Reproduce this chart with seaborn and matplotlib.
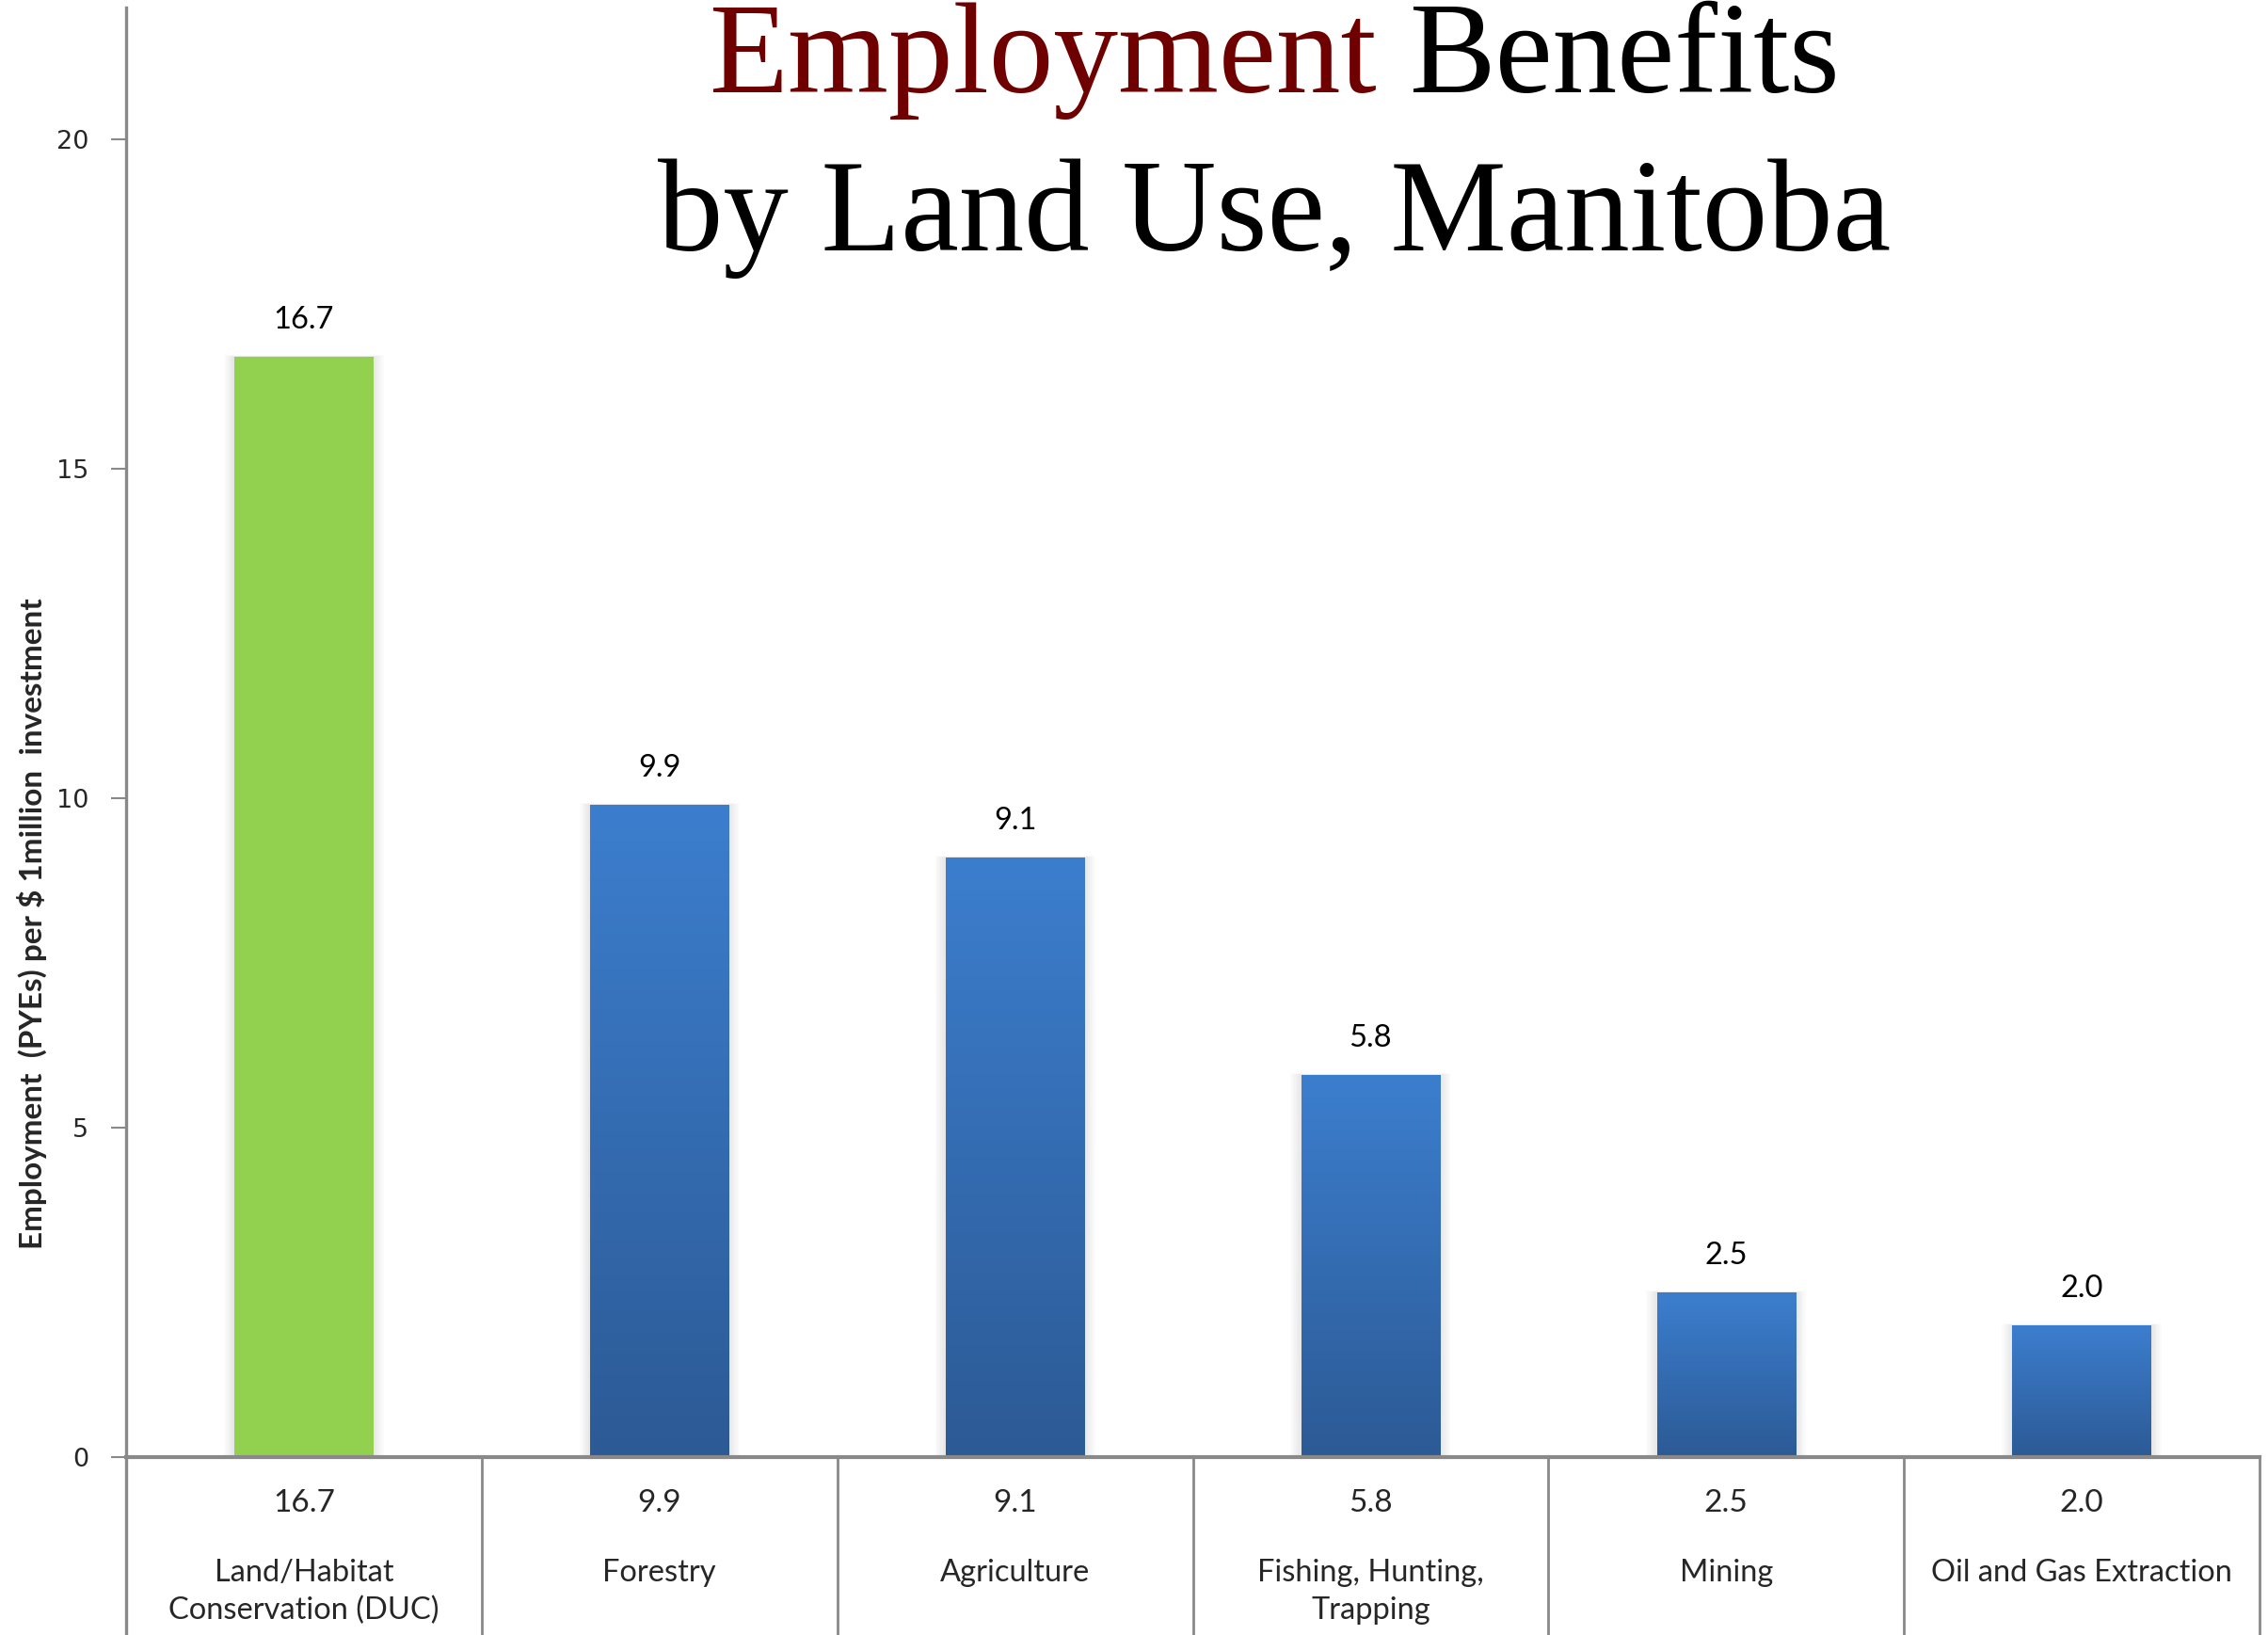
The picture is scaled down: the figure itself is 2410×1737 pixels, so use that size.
import numpy as np
import pandas as pd
import matplotlib
matplotlib.use("Agg")
import matplotlib.pyplot as plt
import matplotlib.transforms as mtrans
from matplotlib.lines import Line2D
from matplotlib.patches import Rectangle
import seaborn as sns

# ---- data ----
categories = ["Land/Habitat\nConservation (DUC)", "Forestry", "Agriculture",
              "Fishing, Hunting,\nTrapping", "Mining", "Oil and Gas Extraction"]
values = [16.7, 9.9, 9.1, 5.8, 2.5, 2.0]
value_labels = ["16.7", "9.9", "9.1", "5.8", "2.5", "2.0"]
yticks = [0, 5, 10, 15, 20]
title_red = "Employment"
title_black = "Benefits"
title_line2 = "by Land Use, Manitoba"
ylabel = "Employment  (PYEs) per $ 1million  investment"

W, H = 2410, 1737
sns.set_style("white")
plt.rcParams["font.family"] = ["Lato", "DejaVu Sans"]

GRAY = "#898989"
GREEN = "#92d050"
BLUE_TOP = np.array([0x3c, 0x7e, 0xce]) / 255
BLUE_BOT = np.array([0x2c, 0x5a, 0x95]) / 255

fig = plt.figure(figsize=(W / 100, H / 100), dpi=100)
ax = fig.add_axes([134 / W, 189 / H, (2401 - 134) / W, (1548 - 8) / H])
renderer = fig.canvas.get_renderer()

df = pd.DataFrame({"cat": categories, "val": values})
palette = {c: (GREEN if i == 0 else "#3470b8") for i, c in enumerate(categories)}
sns.barplot(data=df, x="cat", y="val", hue="cat", palette=palette, legend=False,
            width=0.39, ax=ax, saturation=1, zorder=3)

# gradient fills + soft side shadows
grad = np.linspace(0, 1, 256)[:, None]
for i, p in enumerate(ax.patches):
    x0, w, h = p.get_x(), p.get_width(), p.get_height()
    for k in range(1, 7):
        d = 0.005 * k
        ax.add_patch(Rectangle((x0 - d, 0), w + 2 * d, h + 0.004 * k, facecolor="black",
                               edgecolor="none", alpha=0.014, zorder=1))
    if i > 0:
        img = BLUE_BOT[None, None, :] * (1 - grad[:, :, None]) + BLUE_TOP[None, None, :] * grad[:, :, None]
        ax.imshow(img, extent=[x0, x0 + w, 0, h], origin="lower", aspect="auto",
                  zorder=4, interpolation="bilinear")
    p.set_edgecolor("none")

ax.set_xlim(-0.5, len(categories) - 0.5)
ax.set_ylim(0, 22)
ax.set_yticks(yticks)
ax.set_yticklabels([str(t) for t in yticks], family="DejaVu Sans", fontsize=19.5)
ax.set_xticks([])
ax.set_xlabel("")
ax.set_ylabel("")
ax.tick_params(axis="y", length=11.5, width=1.5, color=GRAY, direction="out", pad=17, left=True)
for s in ["top", "right"]:
    ax.spines[s].set_visible(False)
ax.spines["left"].set_color(GRAY)
ax.spines["left"].set_linewidth(2.4)
ax.spines["bottom"].set_color(GRAY)
ax.spines["bottom"].set_linewidth(3)
ax.spines["bottom"].set_zorder(6)

# value labels above bars
for i, (v, lab) in enumerate(zip(values, value_labels)):
    ax.annotate(lab, (i, v), xytext=(0, 30), textcoords="offset pixels",
                ha="center", va="baseline", fontsize=23.5, color="black")

# data table below
bt = mtrans.blended_transform_factory(ax.transData, fig.transFigure)
yb0 = 1 - 1548 / H
for xb in np.arange(-0.5, len(categories), 1.0):
    fig.add_artist(Line2D([xb, xb], [yb0, 0], transform=bt, color=GRAY,
                          lw=2.4 if xb == -0.5 else 2.0))
for i, (lab, vl) in enumerate(zip(categories, value_labels)):
    fig.text(i, 1 - 1597 / H, vl, transform=bt, ha="center", va="center", fontsize=24)
    fig.text(i, 1 - 1656 / H, lab, transform=bt, ha="center", va="top", fontsize=23.5,
             linespacing=1.4)

# y label, fitted to the reference length
probe = fig.text(0, 0, ylabel, fontsize=20, fontweight="bold", family=["Lato", "DejaVu Sans"])
lw_ = probe.get_window_extent(renderer).width
probe.remove()
ysize = 20 * 690 / lw_
fig.text(34 / W, 1 - 981 / H, ylabel, rotation=90, ha="center", va="center",
         fontsize=ysize, fontweight="bold", family=["Lato", "DejaVu Sans"])

# title
serif = ["Liberation Serif", "DejaVu Serif"]
probe = fig.text(0, 0, title_line2, fontsize=100, family=serif)
wpx = probe.get_window_extent(renderer).width
probe.remove()
tsize = 100 * 1310 / wpx
cx = 1354 / W
fig.text(cx, 1 - 266 / H, title_line2, fontsize=tsize, family=serif,
         ha="center", va="baseline", color="black")
t1size = tsize * 0.99
probe = fig.text(0, 0, title_red + " " + title_black, fontsize=t1size, family=serif)
w1 = probe.get_window_extent(renderer).width / W
probe.remove()
fig.text(cx - w1 / 2, 1 - 98 / H, title_red, fontsize=t1size, family=serif,
         ha="left", va="baseline", color="#6e0000")
fig.text(cx + w1 / 2, 1 - 98 / H, title_black, fontsize=t1size, family=serif,
         ha="right", va="baseline", color="black")

fig.savefig("out.png", dpi=100, facecolor="white")
